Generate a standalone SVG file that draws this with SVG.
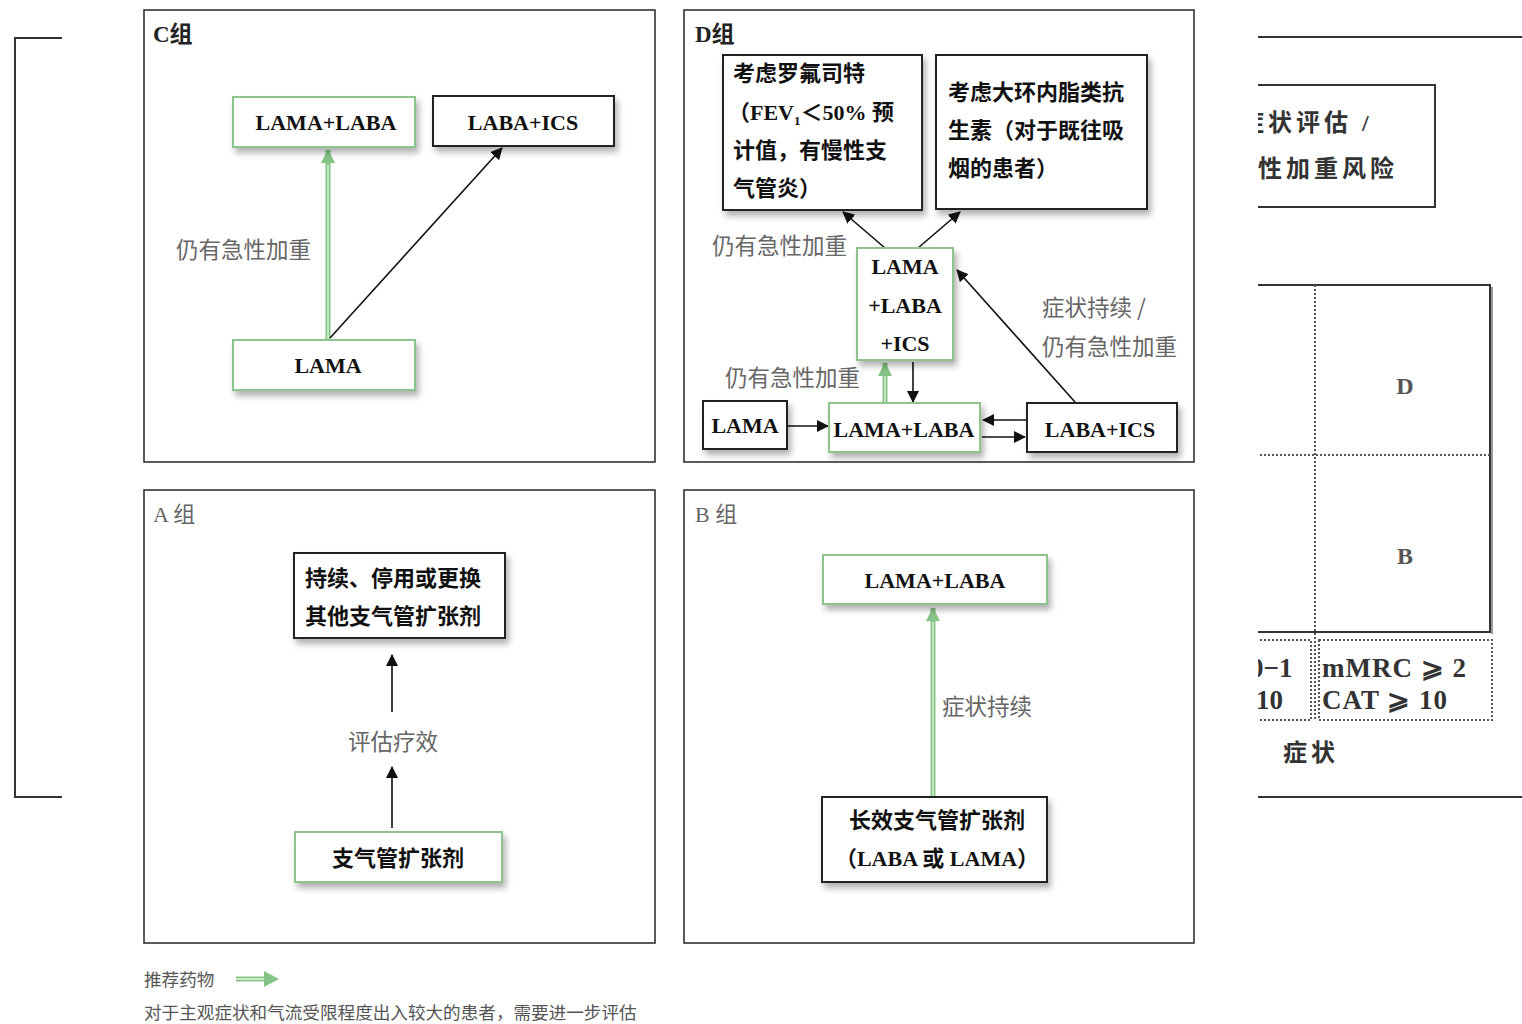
<svg xmlns="http://www.w3.org/2000/svg" width="1522" height="1024" viewBox="0 0 1522 1024">
<defs>
<style>
.panel{fill:none;stroke:#333;stroke-width:1.6}
.bx{fill:#fff;stroke:#222;stroke-width:2;filter:url(#sh)}
.gb{fill:#fff;stroke:#8cc48c;stroke-width:2;filter:url(#sh)}
.t{font-family:"Liberation Serif","Noto Sans CJK SC",serif;font-weight:bold;font-size:22px;fill:#111;text-anchor:middle}
.tc{font-family:"Liberation Serif","Noto Sans CJK SC",serif;font-weight:bold;font-size:22px;fill:#111}
.lbl{font-family:"Noto Sans CJK SC",sans-serif;font-size:22.5px;fill:#666}
.ttl{font-family:"Liberation Serif","Noto Sans CJK SC",serif;font-weight:bold;font-size:23px;fill:#222}
.ttl2{font-family:"Liberation Serif","Noto Sans CJK SC",serif;font-size:22px;fill:#666}
.ar{fill:none;stroke:#111;stroke-width:1.6}
.ga{fill:none;stroke:#86c386;stroke-width:5}
.gi{fill:none;stroke:#d9f0d9;stroke-width:1.5}
.frame{fill:none;stroke:#333;stroke-width:2}
.dot{fill:none;stroke:#555;stroke-width:2;stroke-dasharray:2 2}
.rt{font-family:"Liberation Serif","Noto Sans CJK SC",serif;font-weight:bold;font-size:24px;fill:#333}
.rs{font-family:"Liberation Serif","Noto Sans CJK SC",serif;font-weight:bold;font-size:27px;fill:#333}
.ft{font-family:"Noto Sans CJK SC",sans-serif;font-size:17.6px;fill:#555}
</style>
<filter id="sh" x="-10%" y="-10%" width="130%" height="140%">
<feDropShadow dx="3" dy="5" stdDeviation="3" flood-color="#000" flood-opacity="0.3"/>
</filter>
<marker id="ab" viewBox="0 0 12 12" refX="11" refY="6" markerWidth="12" markerHeight="12" markerUnits="userSpaceOnUse" orient="auto">
<path d="M0,0 L12,6 L0,12 Z" fill="#111"/>
</marker>
<marker id="ag" viewBox="0 0 14 14" refX="13" refY="7" markerWidth="14" markerHeight="14" markerUnits="userSpaceOnUse" orient="auto">
<path d="M0,0 L14,7 L0,14 Z" fill="#86c386"/>
</marker>
<clipPath id="rc"><rect x="1258" y="0" width="264" height="1024"/></clipPath>
</defs>
<rect width="1522" height="1024" fill="#fff"/>

<g id="outer-frame">
<path class="frame" d="M62,38 L15,38 L15,797 L62,797"/>
<path class="frame" d="M1258,37 L1522,37 M1258,797 L1522,797"/>
</g>

<g id="right-partial" clip-path="url(#rc)">
<rect x="1200" y="85" width="235" height="122" fill="#fff" stroke="#333" stroke-width="2"/>
<text class="rt" x="1240" y="131" letter-spacing="4">症状评估 /</text>
<text class="rt" x="1258" y="177" letter-spacing="4">性加重风险</text>
<path d="M1200,285 L1490,285 L1490,632 L1200,632" fill="none" stroke="#333" stroke-width="2"/>
<path d="M1492,287 L1492,634" stroke="#999" stroke-width="2"/>
<path class="dot" d="M1315,285 L1315,720 M1200,455 L1490,455"/>
<path class="dot" d="M1200,640 L1311,640 L1311,720 L1200,720"/>
<path class="dot" d="M1319,640 L1492,640 L1492,720 L1319,720 Z"/>
<text x="1405" y="394" font-family="Liberation Serif,serif" font-weight="bold" font-size="24" fill="#555" text-anchor="middle">D</text>
<text x="1405" y="564" font-family="Liberation Serif,serif" font-weight="bold" font-size="24" fill="#555" text-anchor="middle">B</text>
<text class="rs" x="1250" y="677">0−1</text>
<text class="rs" x="1256" y="709">10</text>
<text class="rs" x="1322" y="677" letter-spacing="1">mMRC  ⩾  2</text>
<text class="rs" x="1322" y="709" letter-spacing="1">CAT  ⩾  10</text>
<text class="rt" x="1283" y="761" letter-spacing="4">症状</text>
</g>

<g id="panel-C">
<rect class="panel" x="144" y="10" width="511" height="452"/>
<text class="ttl" x="153" y="42">C组</text>
</g>
<g id="panel-D">
<rect class="panel" x="684" y="10" width="510" height="452"/>
<text class="ttl" x="695" y="42">D组</text>
</g>
<g id="panel-A">
<rect class="panel" x="144" y="490" width="511" height="453"/>
<text class="ttl2" x="153" y="522">A 组</text>
</g>
<g id="panel-B">
<rect class="panel" x="684" y="490" width="510" height="453"/>
<text class="ttl2" x="695" y="522">B 组</text>
</g>

<g id="connectors">
<path class="ga" d="M328,340 L328,150" marker-end="url(#ag)"/>
<path class="gi" d="M328,340 L328,165"/>
<path class="ar" d="M330,338 L502,148" marker-end="url(#ab)"/>
<path class="ar" d="M885,248 L843,212" marker-end="url(#ab)"/>
<path class="ar" d="M918,248 L960,212" marker-end="url(#ab)"/>
<path class="ar" d="M788,426 L828,426" marker-end="url(#ab)"/>
<path class="ar" d="M1026,420 L983,420" marker-end="url(#ab)"/>
<path class="ar" d="M982,437 L1025,437" marker-end="url(#ab)"/>
<path class="ga" d="M885,403 L885,363" marker-end="url(#ag)"/>
<path class="gi" d="M885,403 L885,376"/>
<path class="ar" d="M913,362 L913,402" marker-end="url(#ab)"/>
<path class="ar" d="M1075,402 L957,270" marker-end="url(#ab)"/>
<path class="ar" d="M392,712 L392,655" marker-end="url(#ab)"/>
<path class="ar" d="M392,828 L392,767" marker-end="url(#ab)"/>
<path class="ga" d="M933,797 L933,608" marker-end="url(#ag)"/>
<path class="gi" d="M933,797 L933,622"/>
</g>

<g id="labels">
<text class="lbl" x="176" y="258">仍有急性加重</text>
<text class="lbl" x="712" y="254">仍有急性加重</text>
<text class="lbl" x="725" y="386">仍有急性加重</text>
<text class="lbl" x="1042" y="316">症状持续 /</text>
<text class="lbl" x="1042" y="355">仍有急性加重</text>
<text class="lbl" x="393" y="750" text-anchor="middle">评估疗效</text>
<text class="lbl" x="942" y="715">症状持续</text>
</g>

<g id="c-lama-laba"><rect class="gb" x="233" y="97" width="182" height="50"/><text class="t" x="326" y="130">LAMA+LABA</text></g>
<g id="c-laba-ics"><rect class="bx" x="433" y="96" width="181" height="50"/><text class="t" x="523" y="130">LABA+ICS</text></g>
<g id="c-lama"><rect class="gb" x="233" y="340" width="182" height="50"/><text class="t" x="328" y="373">LAMA</text></g>

<g id="d-roflumilast"><rect class="bx" x="723" y="55" width="199" height="155"/>
<text class="tc" x="733" y="81">考虑罗氟司特</text>
<text class="tc" x="728" y="120">（FEV<tspan font-size="13" dy="5">1</tspan><tspan dy="-5">＜50% 预</tspan></text>
<text class="tc" x="733" y="158">计值，有慢性支</text>
<text class="tc" x="733" y="196">气管炎）</text>
</g>
<g id="d-macrolide"><rect class="bx" x="936" y="55" width="211" height="154"/>
<text class="tc" x="948" y="100">考虑大环内脂类抗</text>
<text class="tc" x="948" y="138">生素（对于既往吸</text>
<text class="tc" x="948" y="176">烟的患者）</text>
</g>
<g id="d-triple"><rect class="gb" x="857" y="248" width="96" height="112"/>
<text class="t" x="905" y="274">LAMA</text>
<text class="t" x="905" y="313">+LABA</text>
<text class="t" x="905" y="351">+ICS</text>
</g>
<g id="d-lama"><rect class="bx" x="703" y="401" width="84" height="48"/><text class="t" x="745" y="433">LAMA</text></g>
<g id="d-lama-laba"><rect class="gb" x="829" y="403" width="151" height="49"/><text class="t" x="904" y="437">LAMA+LABA</text></g>
<g id="d-laba-ics"><rect class="bx" x="1027" y="403" width="150" height="49"/><text class="t" x="1100" y="437">LABA+ICS</text></g>

<g id="a-switch"><rect class="bx" x="294" y="553" width="211" height="85"/>
<text class="tc" x="305" y="586">持续、停用或更换</text>
<text class="tc" x="305" y="624">其他支气管扩张剂</text>
</g>
<g id="a-bronchodilator"><rect class="gb" x="295" y="832" width="207" height="50"/><text class="t" x="398" y="866">支气管扩张剂</text></g>

<g id="b-lama-laba"><rect class="gb" x="823" y="555" width="224" height="49"/><text class="t" x="935" y="588">LAMA+LABA</text></g>
<g id="b-long-acting"><rect class="bx" x="822" y="797" width="225" height="85"/>
<text class="t" x="937" y="828">长效支气管扩张剂</text>
<text class="t" x="937" y="866">（LABA 或 LAMA）</text>
</g>

<g id="legend">
<text class="ft" x="144" y="986">推荐药物</text>
<path d="M236,979 L266,979" stroke="#86c386" stroke-width="5" fill="none"/>
<path d="M236,979 L266,979" stroke="#e6f5e6" stroke-width="1.5" fill="none"/>
<path d="M264,971 L279,979 L264,987 Z" fill="#86c386"/>
<text class="ft" x="144" y="1019">对于主观症状和气流受限程度出入较大的患者，需要进一步评估</text>
</g>
</svg>
